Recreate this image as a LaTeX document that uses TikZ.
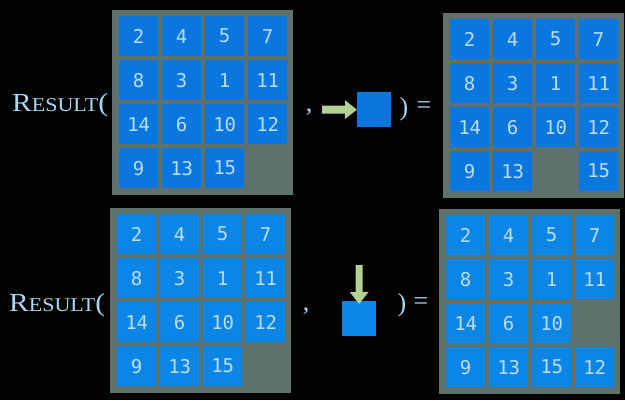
\documentclass[tikz,border=0pt]{standalone}
\usepackage{fontspec}
\setmainfont{Liberation Serif}
\setmonofont{DejaVu Sans Mono}
\usetikzlibrary{arrows.meta}
\definecolor{bg}{HTML}{030303}
\definecolor{boardgray}{HTML}{5E716C}
\definecolor{tiletop}{HTML}{0A76E0}
\definecolor{tilebot}{HTML}{0C86E6}
\definecolor{numcol}{HTML}{BCDDF0}
\definecolor{txtcol}{HTML}{A8D6F0}
\definecolor{arrowgreen}{HTML}{B2D192}
\tikzset{
  boardbox/.style={fill=boardgray, draw=none, inner sep=0pt, minimum width=181pt, minimum height=185pt, anchor=north west},
  tile/.style={draw=none, inner sep=0pt, minimum width=39pt, minimum height=40pt, anchor=north west, text=numcol, font=\ttfamily\fontsize{19}{19}\selectfont},
  labeltext/.style={text=txtcol, inner sep=0pt},
  symtext/.style={text=txtcol, inner sep=0pt, font=\fontsize{26}{26}\selectfont},
  movesq/.style={draw=none, inner sep=0pt, minimum width=34pt, minimum height=35pt, anchor=north west},
  greenarrow/.style={draw=arrowgreen, -{Triangle[length=12pt,width=18pt]}},
}
\newcommand\resulttext{\scalebox{1.13}[1]{\fontsize{26}{26}\selectfont R\fontsize{19.5}{19.5}\selectfont ESULT\fontsize{26}{26}\selectfont(}}
\newcommand\puzzle[5]{%
  \node[boardbox] (#1) at (#2,#3) {};
  \foreach \c/\r/\t in {#5} {
    \node[tile, fill=#4] (#1-\r-\c) at ({#2+7+43*(\c-1)},{#3+6+44*(\r-1)}) {\t};
  }
}
\begin{document}
\begin{tikzpicture}[x=1pt,y=-1pt]
\fill[bg] (0,0) rectangle (625,400);
\useasboundingbox (0,0) rectangle (625,400);
% top row
\puzzle{A}{112}{10}{tiletop}{1/1/2,2/1/4,3/1/5,4/1/7,1/2/8,2/2/3,3/2/1,4/2/11,1/3/14,2/3/6,3/3/10,4/3/12,1/4/9,2/4/13,3/4/15}
\puzzle{B}{443}{13}{tiletop}{1/1/2,2/1/4,3/1/5,4/1/7,1/2/8,2/2/3,3/2/1,4/2/11,1/3/14,2/3/6,3/3/10,4/3/12,1/4/9,2/4/13,4/4/15}
\node[labeltext, anchor=base west] (r1) at (12,111) {\resulttext};
\node[symtext, anchor=base] (c1) at (309,111) {,};
\node[movesq, fill=tiletop] (sq1) at (357,92) {};
\coordinate (a1) at (322,109.5);
\draw[greenarrow, line width=8pt] (a1) -- (sq1.west);
\node[symtext, anchor=base] (p1) at (404,115) {)};
\node[symtext, anchor=base] (e1) at (424,113) {=};
% bottom row
\puzzle{C}{110}{208}{tilebot}{1/1/2,2/1/4,3/1/5,4/1/7,1/2/8,2/2/3,3/2/1,4/2/11,1/3/14,2/3/6,3/3/10,4/3/12,1/4/9,2/4/13,3/4/15}
\puzzle{D}{439}{209}{tilebot}{1/1/2,2/1/4,3/1/5,4/1/7,1/2/8,2/2/3,3/2/1,4/2/11,1/3/14,2/3/6,3/3/10,1/4/9,2/4/13,3/4/15,4/4/12}
\node[labeltext, anchor=base west] (r2) at (9,311) {\resulttext};
\node[symtext, anchor=base] (c2) at (306,310) {,};
\node[movesq, fill=tilebot] (sq2) at (342,301) {};
\coordinate (a2) at (359,265);
\draw[greenarrow, line width=7pt, shorten >=-3pt] (a2) -- (sq2.north);
\node[symtext, anchor=base] (p2) at (402,311) {)};
\node[symtext, anchor=base] (e2) at (421,309) {=};
\end{tikzpicture}
\end{document}
